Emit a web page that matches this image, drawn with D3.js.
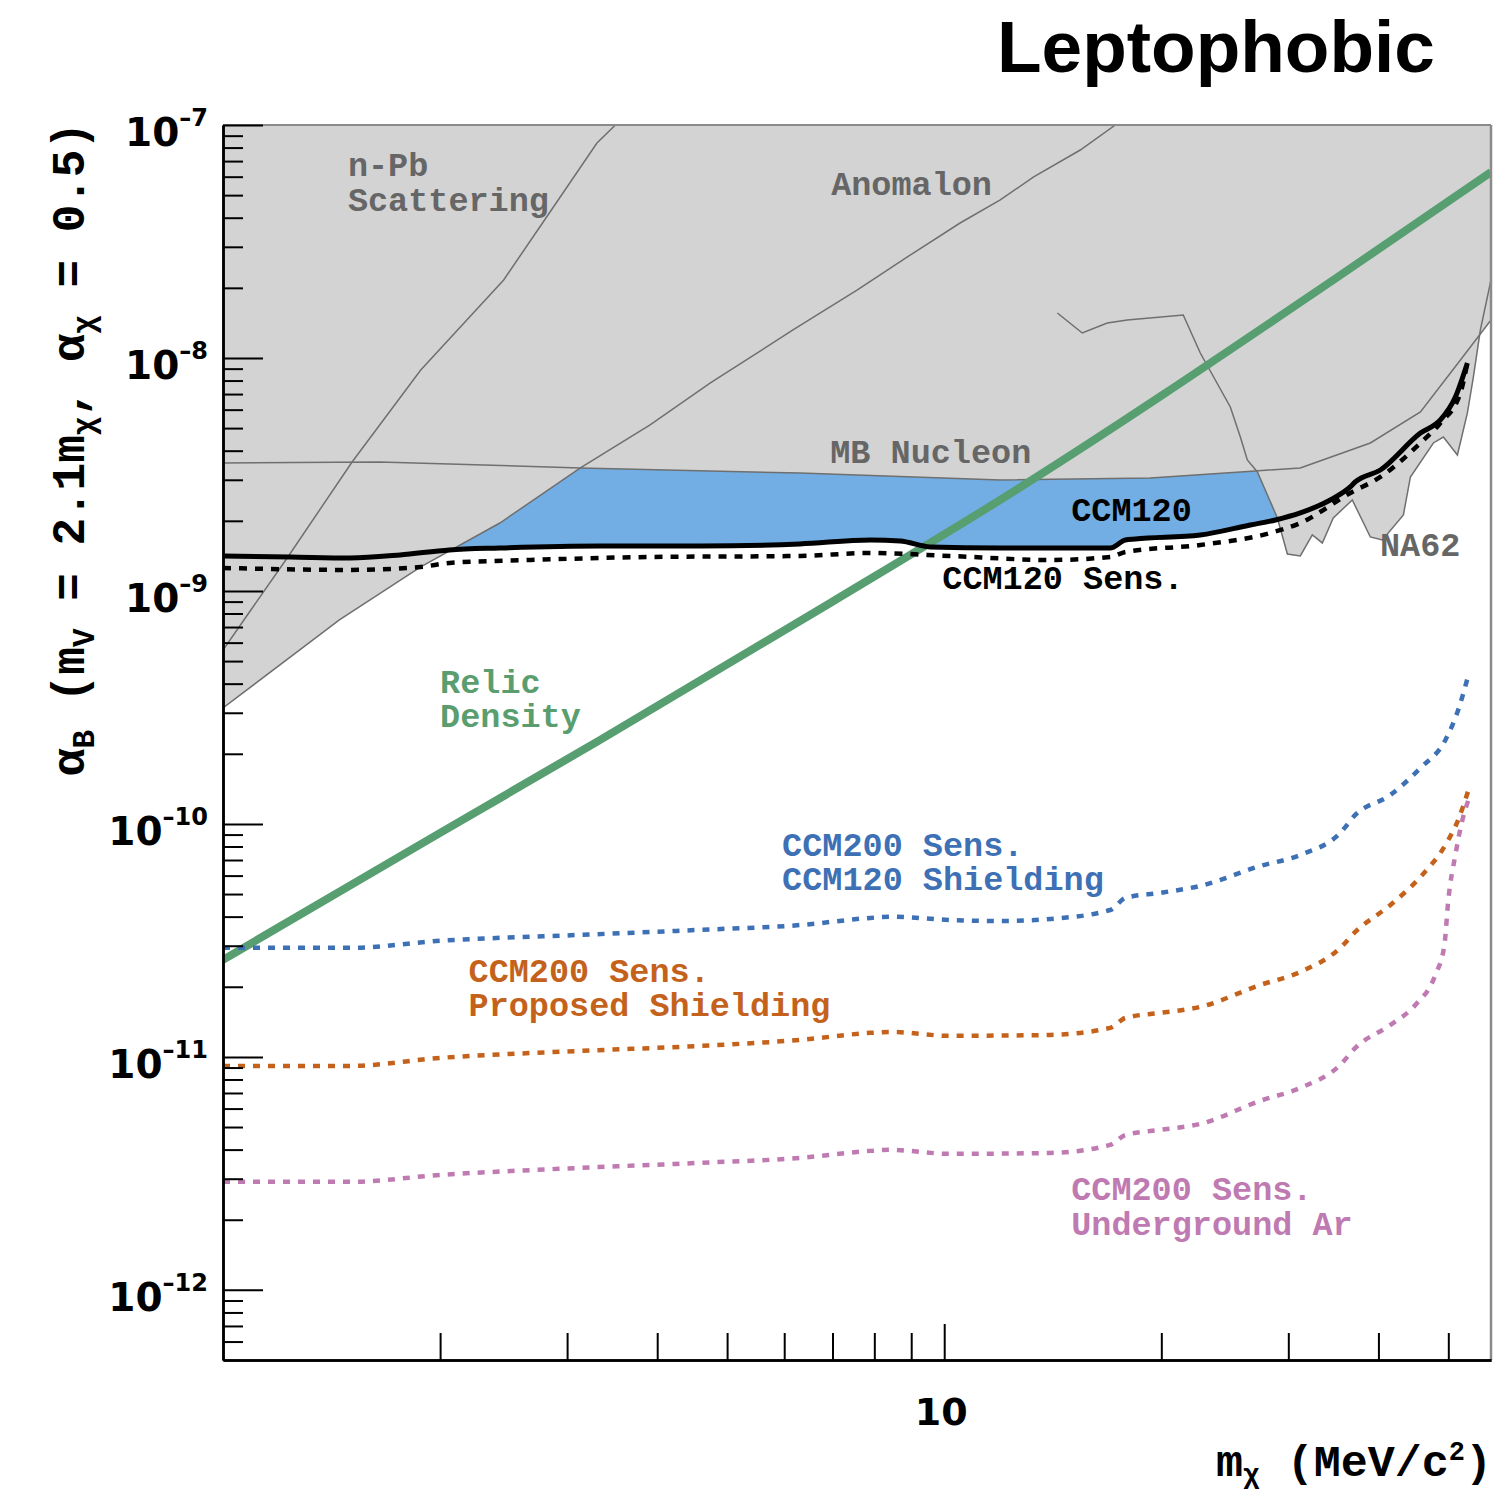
<!DOCTYPE html>
<html>
<head>
<meta charset="utf-8">
<script src="https://cdn.jsdelivr.net/npm/d3@7"></script>
<style>
  body { margin: 0; background: #ffffff; }
  svg { display: block; }
</style>
</head>
<body>
<svg id="chart" width="1503" height="1494"></svg>
<script>
// ---- Relic density target (alpha_B vs dark-matter mass, MeV) ----
const relicMass  = [1.00, 2.00, 3.33, 6.95, 11.96, 34.63, 57.3];
const relicAlpha = [2.61e-11, 9.15e-11, 2.29e-10, 8.88e-10, 2.46e-9, 2.16e-8, 6.28e-8];

// ---- CCM120 limit (solid) ----
const ccm120Mass  = [1.00, 1.24, 1.50, 1.76, 2.06, 2.42, 3.33, 4.59, 6.31, 7.90, 8.69, 9.56, 11.96, 16.99,
                     17.83, 18.41, 22.65, 26.57, 28.79, 31.17, 34.30, 36.56, 37.15, 40.25, 45.74, 48.75, 51.14, 53.14];
const ccm120Alpha = [1.413e-9, 1.399e-9, 1.385e-9, 1.427e-9, 1.500e-9, 1.529e-9, 1.560e-9, 1.560e-9, 1.591e-9,
                     1.655e-9, 1.639e-9, 1.545e-9, 1.529e-9, 1.529e-9, 1.655e-9, 1.672e-9, 1.739e-9, 1.92e-9,
                     2.017e-9, 2.162e-9, 2.458e-9, 2.795e-9, 2.937e-9, 3.305e-9, 4.76e-9, 5.42e-9, 6.80e-9, 9.52e-9];

// ---- CCM120 sensitivity (dotted) ----
const ccm120SensMass  = [1.00, 1.50, 1.88, 2.06, 2.67, 3.91, 6.31, 7.90, 10.19, 14.03, 16.99, 17.83, 22.65,
                         28.33, 31.17, 36.56, 40.25, 45.74, 48.75, 51.97, 53.14];
const ccm120SensAlpha = [1.255e-9, 1.231e-9, 1.268e-9, 1.319e-9, 1.358e-9, 1.399e-9, 1.413e-9, 1.456e-9,
                         1.413e-9, 1.358e-9, 1.399e-9, 1.470e-9, 1.575e-9, 1.774e-9, 1.957e-9, 2.634e-9,
                         3.085e-9, 4.317e-9, 5.26e-9, 7.08e-9, 9.52e-9];

// ---- CCM200 sensitivities ----
const ccm200Mass = [1.00, 1.50, 2.00, 3.13, 4.59, 6.31, 7.90, 8.42, 10.19, 11.96, 14.03, 16.99, 17.83, 19.93,
                    22.65, 27.44, 31.17, 35.41, 37.15, 41.56, 45.74, 49.54, 51.6, 53.32];
const ccm200ShieldAlpha = [2.94e-11, 2.94e-11, 3.15e-11, 3.34e-11, 3.51e-11, 3.68e-11, 3.95e-11, 4.0e-11,
                           3.87e-11, 3.83e-11, 3.91e-11, 4.27e-11, 4.81e-11, 5.06e-11, 5.42e-11, 6.60e-11,
                           7.36e-11, 9.15e-11, 1.093e-10, 1.332e-10, 1.739e-10, 2.293e-10, 3.085e-10, 4.36e-10];
const ccm200ProposedAlpha = [9.15e-12, 9.15e-12, 9.90e-12, 1.061e-11, 1.115e-11, 1.183e-11, 1.268e-11, 1.280e-11,
                             1.231e-11, 1.235e-11, 1.243e-11, 1.332e-11, 1.470e-11, 1.545e-11, 1.639e-11, 2.037e-11,
                             2.316e-11, 2.937e-11, 3.44e-11, 4.49e-11, 5.92e-11, 8.13e-11, 1.040e-10, 1.399e-10];
const ccm200ArMass  = [1.00, 1.50, 2.00, 3.13, 4.59, 6.31, 7.90, 8.42, 10.19, 14.03, 16.99, 17.83, 19.93, 22.65,
                       27.44, 31.17, 35.41, 37.15, 41.56, 45.0, 47.97, 49.38, 50.0, 51.14, 52.3, 53.32];
const ccm200ArAlpha = [2.908e-12, 2.908e-12, 3.115e-12, 3.339e-12, 3.51e-12, 3.685e-12, 3.95e-12, 3.99e-12,
                       3.835e-12, 3.87e-12, 4.19e-12, 4.625e-12, 4.86e-12, 5.16e-12, 6.48e-12, 7.36e-12,
                       9.24e-12, 1.093e-11, 1.372e-11, 1.671e-11, 2.247e-11, 3.025e-11, 4.72e-11, 7.36e-11,
                       1.040e-10, 1.268e-10];

// ---- Existing exclusions ----
const nPbMass  = [1.00, 1.23, 1.51, 1.88, 2.45, 2.81, 3.30, 3.50];
const nPbAlpha = [5.58e-10, 1.399e-9, 3.578e-9, 8.88e-9, 2.162e-8, 4.03e-8, 8.37e-8, 1.0e-7];

const anomalonMass  = [1.00, 1.45, 1.88, 2.42, 3.13, 3.91, 4.74, 6.17, 7.57, 9.06, 10.52, 11.96, 13.29, 15.44, 17.27];
const anomalonAlpha = [3.147e-10, 7.51e-10, 1.268e-9, 1.957e-9, 3.372e-9, 5.16e-9, 7.81e-9, 1.319e-8, 1.957e-8,
                       2.822e-8, 3.796e-8, 4.766e-8, 5.98e-8, 7.81e-8, 1.0e-7];

const mbNucleonMass  = [1.00, 1.65, 3.13, 6.31, 11.96, 19.31, 27.00, 31.17, 38.98, 45.74, 51.97, 57.3];
const mbNucleonAlpha = [3.542e-9, 3.578e-9, 3.372e-9, 3.208e-9, 2.995e-9, 3.055e-9, 3.273e-9, 3.372e-9,
                        4.317e-9, 5.865e-9, 9.80e-9, 1.455e-8];

const na62Mass  = [14.35, 15.54, 16.83, 17.94, 21.45, 22.65, 24.93, 25.74, 26.32, 27.18, 28.97, 29.91, 31.17,
                   32.39, 33.44, 34.63, 36.80, 38.98, 40.51, 43.32, 44.30, 47.67, 49.22, 51.47, 53.14, 54.17,
                   55.39, 57.3];
const na62Alpha = [1.56e-8, 1.28e-8, 1.413e-8, 1.455e-8, 1.529e-8, 1.050e-8, 6.16e-9, 4.58e-9, 3.648e-9,
                   3.24e-9, 2.057e-9, 1.441e-9, 1.413e-9, 1.739e-9, 1.607e-9, 2.057e-9, 2.458e-9, 1.705e-9,
                   1.655e-9, 2.12e-9, 3.085e-9, 4.317e-9, 4.58e-9, 3.835e-9, 5.81e-9, 8.29e-9, 1.319e-8, 2.162e-8];

// ---- Axis ticks ----
const yDecades   = [1e-12, 1e-11, 1e-10, 1e-9, 1e-8, 1e-7];
const yExponents = ["12", "11", "10", "9", "8", "7"];
const xMajorTicks = [10];
const xMajorLabels = ["10"];
const xMinorTicks = [2, 3, 4, 5, 6, 7, 8, 9, 20, 30, 40, 50];

// ---- Region / curve labels (anchored in data coordinates) ----
const labels = [
  { lines: ["n-Pb", "Scattering"], m: 1.49, a: 6.04e-8, color: "#666666" },
  { lines: ["Anomalon"], m: 6.97, a: 5.0e-8, color: "#666666" },
  { lines: ["MB Nucleon"], m: 6.95, a: 3.54e-9, color: "#666666" },
  { lines: ["CCM120"], m: 15.0, a: 2.0e-9, color: "#000000" },
  { lines: ["CCM120 Sens."], m: 9.94, a: 1.02e-9, color: "#000000" },
  { lines: ["NA62"], m: 40.2, a: 1.41e-9, color: "#666666" },
  { lines: ["Relic", "Density"], m: 2.0, a: 3.65e-10, color: "#5a9e70" },
  { lines: ["CCM200 Sens.", "CCM120 Shielding"], m: 5.96, a: 7.29e-11, color: "#3d70b4" },
  { lines: ["CCM200 Sens.", "Proposed Shielding"], m: 2.19, a: 2.1e-11, color: "#c4621c" },
  { lines: ["CCM200 Sens.", "Underground Ar"], m: 15.0, a: 2.43e-12, color: "#c07ab2" }
];

// ---- Scales ----
const x = d3.scaleLog().domain([1, 57.3]).range([223, 1491]);
const y = d3.scaleLog().domain([5e-13, 1e-7]).range([1360, 125]);
const [x0, x1] = x.range();
const [yB, yT] = y.range();

const zip = (ms, as) => ms.map((m, i) => ({ m, a: as[i] }));

const svg = d3.select("#chart");
svg.append("defs").append("clipPath").attr("id", "plotArea")
  .append("rect").attr("x", x0).attr("y", yT).attr("width", x1 - x0).attr("height", yB - yT);

const plot = svg.append("g").attr("clip-path", "url(#plotArea)");

// Region newly excluded by CCM120: filled above its limit, then covered by prior exclusions
const blueArea = d3.area().curve(d3.curveMonotoneX)
  .x(d => x(d.m)).y0(yT).y1(d => y(d.a));
plot.append("path").datum(zip(ccm120Mass, ccm120Alpha))
  .attr("d", blueArea).attr("fill", "#72aee3");

// Prior exclusions (union of filled regions above each bound)
const grayArea = d3.area().x(d => x(d.m)).y0(yT).y1(d => y(d.a));
[[nPbMass, nPbAlpha], [anomalonMass, anomalonAlpha], [mbNucleonMass, mbNucleonAlpha], [na62Mass, na62Alpha]]
  .forEach(([ms, as]) => {
    plot.append("path").datum(zip(ms, as)).attr("d", grayArea).attr("fill", "#d3d3d3");
  });

const thinLine = d3.line().x(d => x(d.m)).y(d => y(d.a));
[[nPbMass, nPbAlpha], [anomalonMass, anomalonAlpha], [mbNucleonMass, mbNucleonAlpha], [na62Mass, na62Alpha]]
  .forEach(([ms, as]) => {
    plot.append("path").datum(zip(ms, as)).attr("d", thinLine)
      .attr("fill", "none").attr("stroke", "#6f6f6f").attr("stroke-width", 1.5);
  });

const smooth = d3.line().curve(d3.curveMonotoneX).x(d => x(d.m)).y(d => y(d.a));

// Relic density
plot.append("path").datum(zip(relicMass, relicAlpha)).attr("d", smooth)
  .attr("fill", "none").attr("stroke", "#579e70").attr("stroke-width", 8);

// CCM120 limit and sensitivity
plot.append("path").datum(zip(ccm120Mass, ccm120Alpha)).attr("d", smooth)
  .attr("fill", "none").attr("stroke", "#000").attr("stroke-width", 5);
plot.append("path").datum(zip(ccm120SensMass, ccm120SensAlpha)).attr("d", smooth)
  .attr("fill", "none").attr("stroke", "#000").attr("stroke-width", 4.5)
  .attr("stroke-dasharray", "8,8");

// CCM200 projections
[[ccm200Mass, ccm200ShieldAlpha, "#3d70b4"],
 [ccm200Mass, ccm200ProposedAlpha, "#c4621c"],
 [ccm200ArMass, ccm200ArAlpha, "#c07ab2"]].forEach(([ms, as, c]) => {
  plot.append("path").datum(zip(ms, as)).attr("d", smooth)
    .attr("fill", "none").attr("stroke", c).attr("stroke-width", 4.5)
    .attr("stroke-dasharray", "7,8");
});

// ---- Frame ----
svg.append("line").attr("x1", x0).attr("x2", x1).attr("y1", yT).attr("y2", yT)
  .attr("stroke", "#8a8a8a").attr("stroke-width", 2);
svg.append("line").attr("x1", x1).attr("x2", x1).attr("y1", yT).attr("y2", yB)
  .attr("stroke", "#8a8a8a").attr("stroke-width", 2.5);

// ---- Axes (ticks pointing into the plot) ----
const yMinor = [];
for (let e = -13; e <= -8; e++) for (let k = 2; k <= 9; k++) {
  const v = k * Math.pow(10, e);
  if (v > 5e-13 && v < 1e-7) yMinor.push(v);
}
const axisStyle = g => {
  g.selectAll("line").attr("stroke", "#000").attr("stroke-width", 2);
  g.select(".domain").attr("stroke", "#000").attr("stroke-width", 2.5);
  g.selectAll("text").remove();
};
svg.append("g").attr("transform", `translate(${x0},0)`)
  .call(d3.axisLeft(y).tickValues(yMinor).tickSize(-20).tickSizeOuter(0).tickFormat(""))
  .call(axisStyle);
svg.append("g").attr("transform", `translate(${x0},0)`)
  .call(d3.axisLeft(y).tickValues(yDecades).tickSize(-40).tickSizeOuter(0).tickFormat(""))
  .call(axisStyle);
svg.append("g").attr("transform", `translate(0,${yB})`)
  .call(d3.axisBottom(x).tickValues(xMinorTicks).tickSize(-27).tickSizeOuter(0).tickFormat(""))
  .call(axisStyle);
svg.append("g").attr("transform", `translate(0,${yB})`)
  .call(d3.axisBottom(x).tickValues(xMajorTicks).tickSize(-36).tickSizeOuter(0).tickFormat(""))
  .call(axisStyle);

// Tick labels
const tickFont = "'DejaVu Sans', Verdana, sans-serif";
yDecades.forEach((v, i) => {
  const t = svg.append("text").attr("x", 208).attr("y", y(v) + 21)
    .attr("text-anchor", "end").attr("font-family", tickFont).attr("font-weight", "bold")
    .attr("font-size", 39).attr("fill", "#000");
  t.append("tspan").text("10");
  t.append("tspan").attr("dy", -20).attr("font-size", 24).text("\u2013" + yExponents[i]);
});
xMajorTicks.forEach((v, i) => {
  svg.append("text").attr("x", x(v) - 3).attr("y", 1425).attr("text-anchor", "middle")
    .attr("font-family", tickFont).attr("font-weight", "bold").attr("font-size", 38)
    .attr("fill", "#000").text(xMajorLabels[i]);
});

// Axis titles
const mono = "'Liberation Mono', 'Courier New', monospace";
const xt = svg.append("text").attr("x", 1492).attr("y", 1476).attr("text-anchor", "end")
  .attr("font-family", mono).attr("font-weight", "bold").attr("font-size", 45).attr("fill", "#000");
xt.append("tspan").text("m");
xt.append("tspan").attr("dy", 7).attr("font-size", 28).text("\u03c7");
xt.append("tspan").attr("dy", -7).text("  (MeV/c");
xt.append("tspan").attr("dy", -16).attr("font-size", 27).text("2");
xt.append("tspan").attr("dy", 16).text(")");

const yt = svg.append("text").attr("transform", "translate(84,449) rotate(-90)").attr("text-anchor", "middle")
  .attr("font-family", mono).attr("font-weight", "bold").attr("font-size", 46).attr("fill", "#000");
yt.append("tspan").text("\u03b1");
yt.append("tspan").attr("dy", 10).attr("font-size", 31).text("B");
yt.append("tspan").attr("dy", -10).text(" (m");
yt.append("tspan").attr("dy", 10).attr("font-size", 31).text("V");
yt.append("tspan").attr("dy", -10).text(" = 2.1m");
yt.append("tspan").attr("dy", 10).attr("font-size", 31).text("\u03c7");
yt.append("tspan").attr("dy", -10).text(", \u03b1");
yt.append("tspan").attr("dy", 10).attr("font-size", 31).text("\u03c7");
yt.append("tspan").attr("dy", -10).text(" = 0.5)");

// Title
svg.append("text").attr("x", 997).attr("y", 72)
  .attr("font-family", "'Liberation Sans', Arial, Helvetica, sans-serif").attr("font-weight", "bold")
  .attr("font-size", 73).attr("fill", "#000").text("Leptophobic");

// Region and curve labels
labels.forEach(l => {
  const t = svg.append("text").attr("x", x(l.m)).attr("y", y(l.a))
    .attr("font-family", mono).attr("font-weight", "bold").attr("font-size", 33.5)
    .attr("fill", l.color);
  l.lines.forEach((s, i) => {
    t.append("tspan").attr("x", x(l.m)).attr("dy", i === 0 ? 0 : 34.5).text(s);
  });
});
</script>
</body>
</html>
